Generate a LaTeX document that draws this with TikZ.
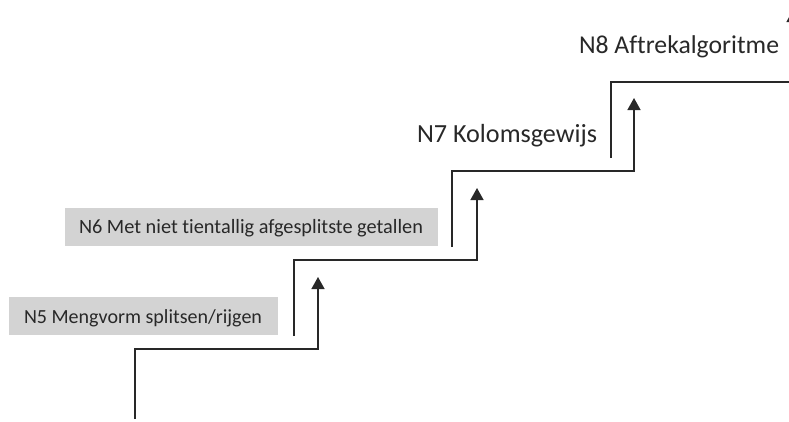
\documentclass[tikz,border=0pt]{standalone}
\usepackage{fontspec}
\setmainfont[Ligatures={NoCommon,NoRare,NoDiscretionary}]{Carlito}
\usetikzlibrary{arrows.meta}
\definecolor{boxgray}{RGB}{211,211,211}
\definecolor{inkgray}{RGB}{40,40,40}
\newlength\fitwd
\newcommand\fittext[2]{%
  \setbox0\hbox{\fontsize{10pt}{12pt}\selectfont #2}%
  \fitwd=\wd0
  \pgfmathsetmacro\fitfs{10*#1/\fitwd}%
  \pgfmathsetmacro\fitbs{1.2*\fitfs}%
  {\fontsize{\fitfs pt}{\fitbs pt}\selectfont #2}}
\tikzset{
  stair/.style={line width=1.4pt, draw=inkgray, line join=miter,
    -{Triangle[width=13pt,length=12pt]}},
  graybox/.style={fill=boxgray, draw=none, inner sep=0pt},
  lbl/.style={inner sep=0pt, anchor=base, text=inkgray},
}
\begin{document}
\begin{tikzpicture}[x=1pt,y=-1pt]
\useasboundingbox (0,0) rectangle (789,421);
\clip (0,0) rectangle (789,421);
% gray boxes
\node[graybox, minimum width=373pt, minimum height=38pt] (n6box) at (251.5,227) {};
\node[graybox, minimum width=269pt, minimum height=38pt] (n5box) at (143.5,316) {};
% labels
\node[lbl] (n8) at (679,53) {\fittext{200}{N8 Aftrekalgoritme}};
\node[lbl] (n7) at (507,142) {\fittext{180}{N7 Kolomsgewijs}};
\node[lbl] (n6) at (251,233) {\fittext{344}{N6 Met niet tientallig afgesplitste getallen}};
\node[lbl] (n5) at (143,323) {\fittext{238}{N5 Mengvorm splitsen/rijgen}};
% stair paths
\coordinate (a0) at (135,419); \coordinate (a1) at (135,349);
\coordinate (a2) at (318,349); \coordinate (a3) at (318,277);
\coordinate (b0) at (294,336); \coordinate (b1) at (294,260);
\coordinate (b2) at (477,260); \coordinate (b3) at (477,188);
\coordinate (c0) at (452,247); \coordinate (c1) at (452,171);
\coordinate (c2) at (634,171); \coordinate (c3) at (634,98);
\coordinate (d0) at (611,158); \coordinate (d1) at (611,82);
\coordinate (d2) at (793,82);  \coordinate (d3) at (793,10);
\draw[stair] (a0) -- (a1) -- (a2) -- (a3);
\draw[stair] (b0) -- (b1) -- (b2) -- (b3);
\draw[stair] (c0) -- (c1) -- (c2) -- (c3);
\draw[stair] (d0) -- (d1) -- (d2) -- (d3);
\end{tikzpicture}
\end{document}
